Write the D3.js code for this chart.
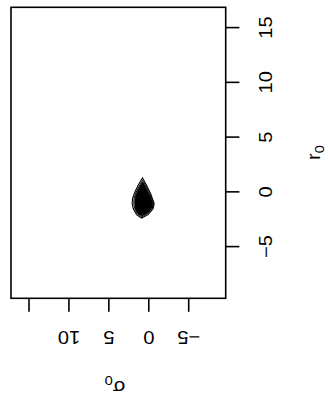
<!DOCTYPE html>
<html><head><meta charset="utf-8">
<script src="https://cdn.jsdelivr.net/npm/d3@7"></script>
<style>body{margin:0;background:#fff}svg{display:block}</style>
</head><body>
<script>
// r0 axis (right side) ticks
const r0Ticks = [-5, 0, 5, 10, 15];
const r0Labels = ["\u22125", "0", "5", "10", "15"];
// sigma0 axis (bottom) ticks
const s0Ticks = [15, 10, 5, 0, -5];
const s0Labels = ["", "10", "5", "0", "\u22125"];
// contour rings [sigma0, r0], outermost first; last ring is the dense core
const ringOuter = [[0.78,1.27],[0.28,0.60],[-0.23,-0.16],[-0.68,-1.07],[-0.55,-1.53],[0.08,-2.08],[0.90,-2.39],[1.53,-2.08],[1.95,-1.53],[2.08,-1.07],[2.03,-0.61],[1.74,-0.01],[1.33,0.60]];
const ringMid = [[0.78,1.05],[0.30,0.45],[-0.17,-0.20],[-0.58,-1.07],[-0.45,-1.48],[0.12,-1.98],[0.88,-2.28],[1.45,-1.98],[1.78,-1.50],[1.88,-1.07],[1.85,-0.60],[1.60,-0.05],[1.22,0.50]];
const ringCore = [[0.78,0.90],[0.32,0.30],[-0.10,-0.30],[-0.50,-1.08],[-0.38,-1.45],[0.15,-1.92],[0.88,-2.20],[1.40,-1.92],[1.68,-1.48],[1.74,-1.07],[1.72,-0.60],[1.50,-0.08],[1.15,0.42]];

const W = 328, H = 400;
const box = {l: 11, r: 225.7, t: 7.3, b: 298.3};
const svg = d3.select("body").append("svg").attr("width", W).attr("height", H);

const yR = d3.scaleLinear().domain([-5, 15]).range([246.6, 27.6]);
const xS = d3.scaleLinear().domain([15, -5]).range([29, 188.7]);

const font = "'Liberation Sans', Arial, Helvetica, sans-serif";
const stretch = "scale(1.12,1)";

// contours
const line = d3.line().x(d => xS(d[0])).y(d => yR(d[1])).curve(d3.curveLinearClosed);
svg.append("path").attr("d", line(ringOuter)).attr("fill", "none").attr("stroke", "#000").attr("stroke-width", 1.1);
svg.append("path").attr("d", line(ringMid)).attr("fill", "none").attr("stroke", "#000").attr("stroke-width", 1);
svg.append("path").attr("d", line(ringCore)).attr("fill", "#000").attr("stroke", "#000").attr("stroke-width", 1);

// box
svg.append("rect").attr("x", box.l).attr("y", box.t).attr("width", box.r - box.l).attr("height", box.b - box.t)
  .attr("fill", "none").attr("stroke", "#000").attr("stroke-width", 1.6);

// right axis (r0)
const gR = svg.append("g");
r0Ticks.forEach((v, i) => {
  const y = yR(v);
  gR.append("line").attr("x1", box.r).attr("x2", box.r + 13.7).attr("y1", y).attr("y2", y)
    .attr("stroke", "#000").attr("stroke-width", 1.6);
  gR.append("text").attr("transform", `translate(271.5,${y}) rotate(-90) ${stretch}`)
    .attr("text-anchor", "middle").attr("font-family", font).attr("font-size", 18).text(r0Labels[i]);
});

// bottom axis (sigma0)
const gB = svg.append("g");
s0Ticks.forEach((v, i) => {
  const x = xS(v);
  gB.append("line").attr("x1", x).attr("x2", x).attr("y1", box.b).attr("y2", box.b + 13.5)
    .attr("stroke", "#000").attr("stroke-width", 1.6);
  gB.append("text").attr("transform", `translate(${x},331) rotate(180) ${stretch}`)
    .attr("text-anchor", "middle").attr("font-family", font).attr("font-size", 18).text(s0Labels[i]);
});

// titles
const t1 = svg.append("text").attr("transform", `translate(115,380.5) rotate(180) ${stretch}`)
  .attr("text-anchor", "middle").attr("font-family", font).attr("font-size", 18);
t1.append("tspan").text("\u03c3");
t1.append("tspan").attr("font-size", 13).attr("dy", 4).text("0");

const t2 = svg.append("text").attr("transform", `translate(320,152.5) rotate(-90) ${stretch}`)
  .attr("text-anchor", "middle").attr("font-family", font).attr("font-size", 18);
t2.append("tspan").text("r");
t2.append("tspan").attr("font-size", 13).attr("dy", 4).text("0");
</script>
</body></html>
